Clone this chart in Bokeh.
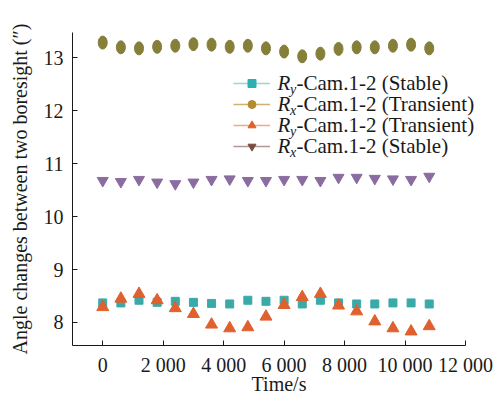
from bokeh.plotting import figure
from bokeh.models import ColumnDataSource, Legend, LegendItem, Label, FixedTicker
from bokeh.embed import file_html
from bokeh.resources import INLINE

# ---------------- data ----------------
time_s = [0, 600, 1200, 1800, 2400, 3000, 3600, 4200, 4800, 5400,
          6000, 6600, 7200, 7800, 8400, 9000, 9600, 10200, 10800]
ry_stable = [8.37, 8.37, 8.42, 8.38, 8.40, 8.38, 8.36, 8.35, 8.42, 8.40,
             8.42, 8.35, 8.42, 8.37, 8.35, 8.35, 8.37, 8.37, 8.35]
rx_transient = [13.29, 13.20, 13.18, 13.21, 13.23, 13.26, 13.25, 13.21, 13.23, 13.18,
                13.12, 13.03, 13.08, 13.17, 13.20, 13.20, 13.23, 13.25, 13.18]
ry_transient = [8.29, 8.45, 8.54, 8.42, 8.27, 8.16, 7.96, 7.89, 7.91, 8.11,
                8.33, 8.48, 8.54, 8.32, 8.21, 8.02, 7.89, 7.83, 7.93]
rx_stable = [10.68, 10.66, 10.70, 10.65, 10.62, 10.65, 10.70, 10.71, 10.68, 10.68,
             10.70, 10.70, 10.68, 10.74, 10.74, 10.72, 10.71, 10.70, 10.76]

x_ticks = [0, 2000, 4000, 6000, 8000, 10000, 12000]
x_tick_labels = ["0", "2 000", "4 000", "6 000", "8 000", "10 000", "12 000"]
y_ticks = [8, 9, 10, 11, 12, 13]

legend_subs = ["y", "x", "y", "x"]
legend_rest = ["-Cam.1-2 (Stable)", "-Cam.1-2 (Transient)",
               "-Cam.1-2 (Transient)", "-Cam.1-2 (Stable)"]

FONT = "Liberation Serif"
NAN = float("nan")

# frame: x axis drawn from -1000 to 12000 over 393 px; frame extends a bit further
# to the right so that the legend texts are not clipped
FRAME_L, FRAME_B, FRAME_T, FRAME_R = 72, 345, 32, 485
X0, X1 = -1000, 12000
x_end = X0 + (FRAME_R - FRAME_L) * (X1 - X0) / 393.0

src = ColumnDataSource(dict(t=time_s, rys=ry_stable, rxt=rx_transient,
                            ryt=ry_transient, rxs=rx_stable))

p = figure(width=495, height=399, output_backend="svg", toolbar_location=None,
           x_range=(X0, x_end), y_range=(7.565, 13.48),
           min_border_left=FRAME_L, min_border_right=495 - FRAME_R,
           min_border_top=FRAME_T, min_border_bottom=399 - FRAME_B)
p.outline_line_color = None
p.grid.visible = False
p.background_fill_color = "white"
p.border_fill_color = "white"

# ---------------- data marks ----------------
p.scatter("t", "rys", source=src, marker="square", size=8,
          fill_color="#3aaaa9", line_color="#3aaaa9")
p.ellipse("t", "rxt", source=src, width=9, height=13,
          width_units="screen", height_units="screen",
          fill_color="#857f3a", line_color="#857f3a")
p.scatter("t", "ryt", source=src, marker="triangle", size=12,
          fill_color="#e0602e", line_color="#e0602e")
p.scatter("t", "rxs", source=src, marker="inverted_triangle", size=11,
          fill_color="#8b6ca0", line_color="#8b6ca0")

# ---------------- legend (glyph samples only; no points on the plot) ----------------
leg_styles = [
    ("#9fd4d4", "square", 9, "#2fb0b0"),
    ("#d2b070", "circle", 10, "#b38c30"),
    ("#f2a888", "triangle", 12, "#e0602a"),
    ("#b09898", "inverted_triangle", 12, "#7a4a40"),
]
items = []
for (lc, mk, sz, mc) in leg_styles:
    dummy = ColumnDataSource(dict(x=[NAN], y=[NAN]))
    lr = p.line(x="x", y="y", source=dummy, line_color=lc, line_width=1.5)
    mr = p.scatter(x="x", y="y", source=dummy, marker=mk, size=sz,
                   fill_color=mc, line_color=mc)
    items.append(LegendItem(label=" ", renderers=[lr, mr]))

LEG_L, LEG_T = 233, 72.7
ROW_H, SPACING = 20, 1
leg_h = 4 * ROW_H + 3 * SPACING
legend = Legend(items=items, location=(LEG_L - FRAME_L, FRAME_B - (LEG_T + leg_h)),
                padding=0, margin=0, spacing=SPACING, glyph_width=37, glyph_height=ROW_H,
                label_height=ROW_H, label_standoff=0, label_width=1,
                border_line_color=None, background_fill_alpha=0,
                label_text_font=FONT, label_text_font_size="1px")
p.add_layout(legend)

# legend texts: italic R with subscript, then the rest of the label
for i, (sub, rest) in enumerate(zip(legend_subs, legend_rest)):
    cy = FRAME_B - (LEG_T + ROW_H / 2 + (ROW_H + SPACING) * i)
    p.add_layout(Label(x=277 - FRAME_L, y=cy, x_units="screen", y_units="screen",
                       text="R", text_font=FONT, text_font_style="italic",
                       text_font_size="21px", text_baseline="middle",
                       text_color="#1a1a1a"))
    p.add_layout(Label(x=289.5 - FRAME_L, y=cy - 6, x_units="screen", y_units="screen",
                       text=sub, text_font=FONT, text_font_style="italic",
                       text_font_size="14px", text_baseline="middle",
                       text_color="#1a1a1a"))
    p.add_layout(Label(x=296 - FRAME_L, y=cy, x_units="screen", y_units="screen",
                       text=rest, text_font=FONT,
                       text_font_size="21px", text_baseline="middle",
                       text_color="#1a1a1a"))

# ---------------- axes ----------------
for ax in (p.xaxis[0], p.yaxis[0]):
    ax.major_tick_in = 5
    ax.major_tick_out = 0
    ax.minor_tick_line_color = None
    ax.axis_line_color = "#1a1a1a"
    ax.major_tick_line_color = "#1a1a1a"
    ax.major_label_text_font = FONT
    ax.major_label_text_font_size = "20px"
    ax.major_label_text_color = "#1a1a1a"
    ax.axis_label_text_font = FONT
    ax.axis_label_text_font_size = "20px"
    ax.axis_label_text_font_style = "normal"
    ax.axis_label_text_color = "#1a1a1a"

p.xaxis.bounds = (X0, X1)
p.xaxis.major_label_standoff = 8
p.yaxis.major_label_standoff = 9
p.xaxis.ticker = FixedTicker(ticks=x_ticks)
p.xaxis.major_label_overrides = dict(zip(x_ticks, x_tick_labels))
p.yaxis.ticker = FixedTicker(ticks=y_ticks)
p.xaxis.axis_label = "Time/s"
p.yaxis.axis_label = "Angle changes between two boresight (\u2033)"
p.xaxis.axis_label_standoff = -6
p.yaxis.axis_label_standoff = 10

open("out.html", "w").write(file_html(p, INLINE))
